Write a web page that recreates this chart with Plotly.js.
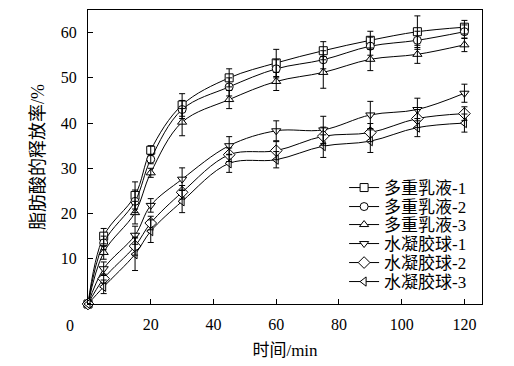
<!DOCTYPE html>
<html>
<head>
<meta charset="utf-8">
<script src="https://cdn.plot.ly/plotly-3.0.1.min.js"></script>
<style>html,body{margin:0;padding:0;background:#fff;}#chart{width:514px;height:366px;}</style>
</head>
<body>
<div id="chart"></div>
<script>
const time = [0, 5, 15, 20, 30, 45, 60, 75, 90, 105, 120];
const names = ["多重乳液-1", "多重乳液-2", "多重乳液-3", "水凝胶球-1", "水凝胶球-2", "水凝胶球-3"];
const emulsion1 = [0, 15, 24, 34, 44, 50, 53.3, 56, 58.3, 60.2, 61.2];
const emulsion2 = [0, 13.5, 22.7, 32, 43, 48, 52, 54, 57, 58.3, 60.2];
const emulsion3 = [0, 11.4, 20.2, 29, 40.2, 45.2, 49.2, 51.2, 54.1, 55.2, 57.3];
const hydrogel1 = [0, 7.8, 15.2, 21.8, 27.6, 35, 38.3, 38.5, 41.8, 43, 46.6];
const hydrogel2 = [0, 5.6, 12.8, 17.9, 24.7, 33, 33.9, 37.1, 37.9, 41, 42.1];
const hydrogel3 = [0, 3.8, 11, 16.1, 22.7, 31.1, 31.9, 34.9, 36, 39, 40];
const err1 = [0, 1.7, 3, 1, 2.5, 2, 3, 2, 2, 3.5, 1.5];
const err2 = [0, 1.5, 2.5, 1, 2, 2, 2, 2, 2, 2, 1.5];
const err3 = [0, 1.5, 2.5, 1, 3, 2, 2, 3.5, 2.5, 2, 1.5];
const err4 = [0, 1.5, 2, 1.5, 2.5, 2, 2.2, 3, 3, 2.5, 2];
const err5 = [0, 1, 2, 1.5, 1.5, 1.5, 2, 2, 2, 2, 1.5];
const err6 = [0, 1.5, 3.6, 2.5, 2.5, 2, 1.8, 2.5, 2.5, 2, 2];
const xTicks = [20, 40, 60, 80, 100, 120];
const yTicks = [10, 20, 30, 40, 50, 60];

const series = [emulsion1, emulsion2, emulsion3, hydrogel1, hydrogel2, hydrogel3];
const errs = [err1, err2, err3, err4, err5, err6];
const symbols = ["square", "circle", "triangle-up", "triangle-down", "diamond", "triangle-left"];
const sizes = [8, 8, 8, 8, 9, 8];
const legendIds = ["legend", "legend2", "legend3", "legend4", "legend5", "legend6"];
const legendRowsPx = [188, 207, 225, 244, 263, 282];

const fontFam = "'Liberation Serif', 'Noto Sans CJK SC', serif";
const plotTop = 10, plotBottom = 304;

const errTraces = series.map((ys, i) => ({
  x: time, y: ys, type: "scatter", mode: "markers", showlegend: false,
  marker: {size: 1, color: "rgba(0,0,0,0)"},
  error_y: {type: "data", array: errs[i], visible: true, color: "#000", thickness: 1, width: 3},
  cliponaxis: false
}));
const lineTraces = series.map((ys, i) => ({
  x: time, y: ys, name: names[i], type: "scatter", mode: "lines+markers",
  legend: legendIds[i],
  line: {color: "#000", width: 1, shape: "spline", smoothing: 1},
  marker: {symbol: symbols[i], size: sizes[i], color: "#fff", line: {color: "#000", width: 1}},
  cliponaxis: false
}));

const layout = {
  width: 514, height: 366,
  margin: {l: 88, r: 32, t: plotTop, b: 366 - plotBottom},
  paper_bgcolor: "#fff", plot_bgcolor: "#fff",
  font: {family: fontFam, color: "#000", size: 16},
  showlegend: true,
  xaxis: {range: [0, 125.6], tickvals: xTicks, ticktext: xTicks.map(String), ticks: "inside", ticklen: 5,
    tickcolor: "#000", showline: true, linecolor: "#000", linewidth: 1, mirror: true, showgrid: false,
    zeroline: false, tickfont: {size: 16}, ticklabelstandoff: 6,
    title: {text: "时间/min", font: {size: 17}, standoff: 11}},
  yaxis: {range: [0, 65], tickvals: yTicks, ticktext: yTicks.map(String), ticks: "inside", ticklen: 5,
    tickcolor: "#000", showline: true, linecolor: "#000", linewidth: 1, mirror: true, showgrid: false,
    zeroline: false, tickfont: {size: 16}, ticklabelstandoff: 7,
    title: {text: "脂肪酸的释放率/%", font: {size: 18}, standoff: 11}},
  annotations: [{text: "0", xref: "paper", yref: "paper", x: -0.046, y: -0.072, showarrow: false,
    xanchor: "center", yanchor: "middle", font: {size: 16, family: fontFam}}]
};
legendIds.forEach((id, i) => {
  layout[id] = {x: 0.65, y: (plotBottom - legendRowsPx[i]) / (plotBottom - plotTop), xanchor: "left", yanchor: "middle",
    bgcolor: "rgba(0,0,0,0)", font: {family: fontFam, size: 17, color: "#000"}, itemwidth: 30};
});
Plotly.newPlot("chart", lineTraces.concat(errTraces), layout, {staticPlot: true, displayModeBar: false});
</script>
</body>
</html>
